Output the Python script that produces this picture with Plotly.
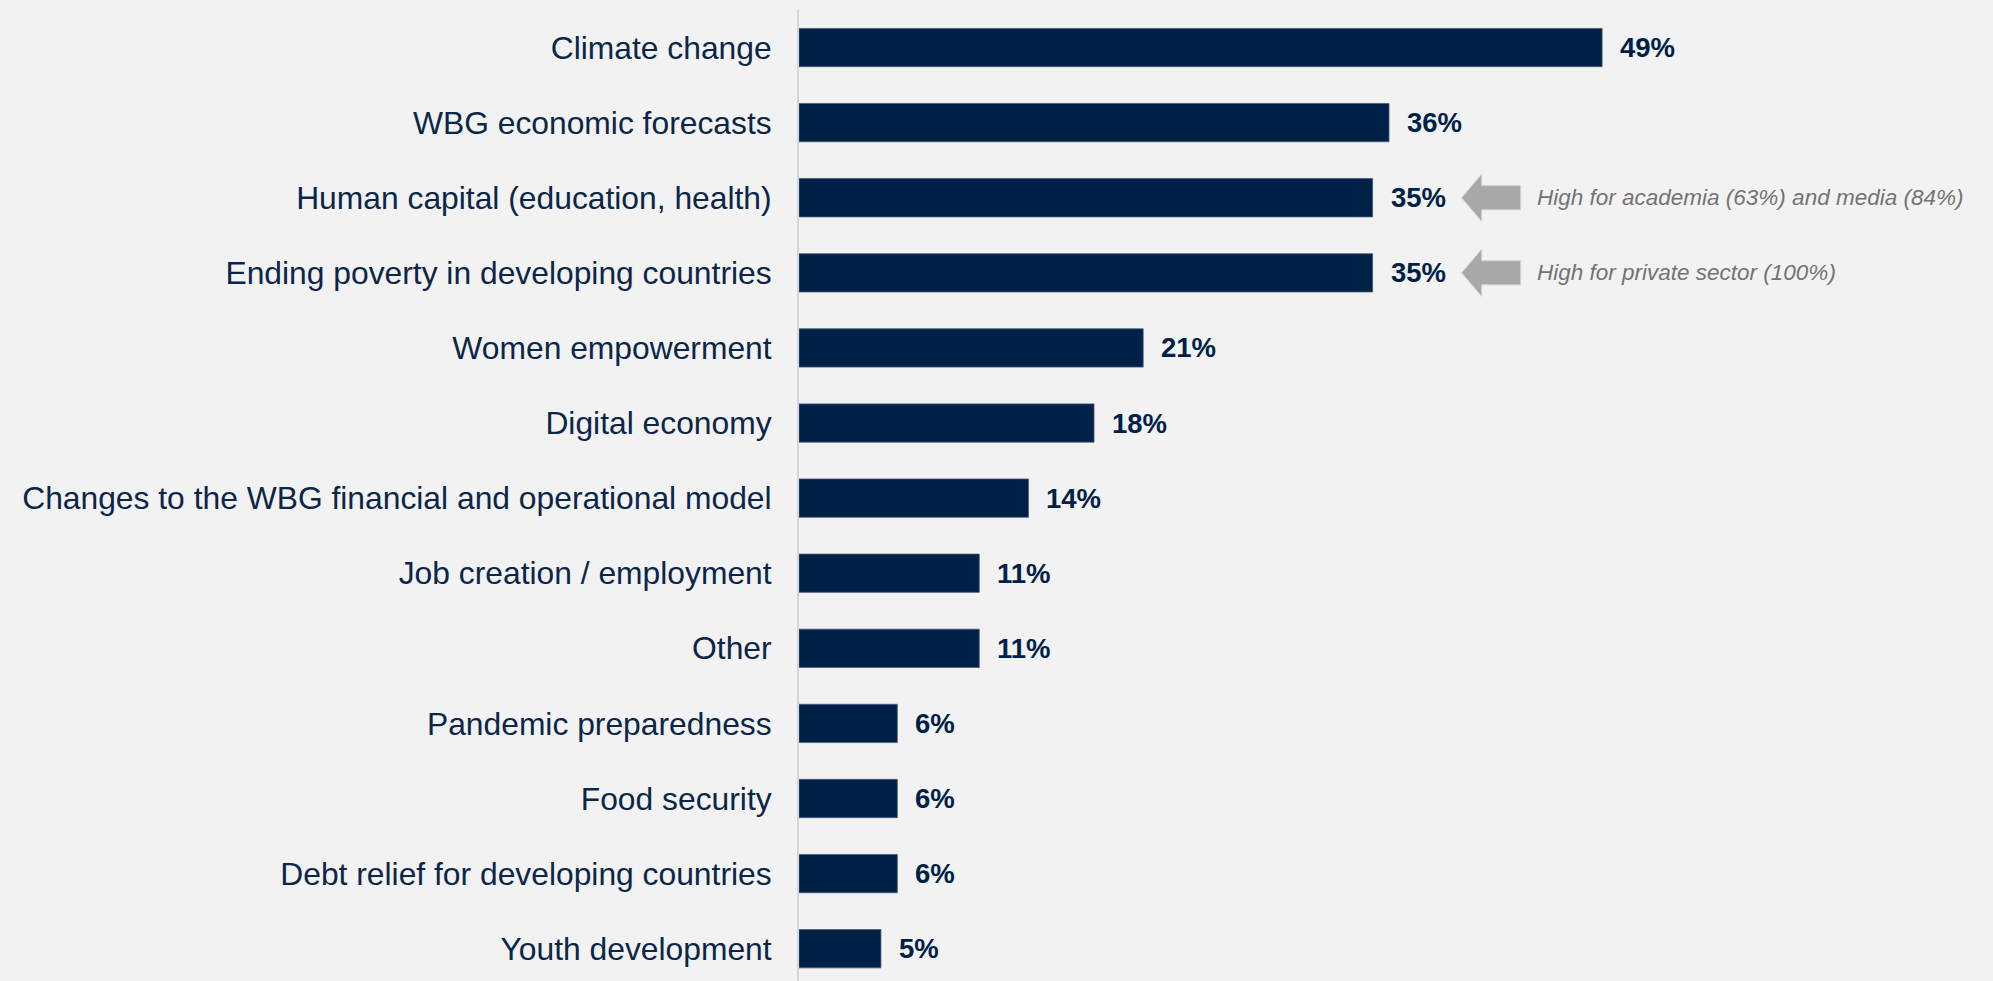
import plotly.graph_objects as go

categories = [
    "Climate change",
    "WBG economic forecasts",
    "Human capital (education, health)",
    "Ending poverty in developing countries",
    "Women empowerment",
    "Digital economy",
    "Changes to the WBG financial and operational model",
    "Job creation / employment",
    "Other",
    "Pandemic preparedness",
    "Food security",
    "Debt relief for developing countries",
    "Youth development",
]
values = [49, 36, 35, 35, 21, 18, 14, 11, 11, 6, 6, 6, 5]
value_labels = [f"{v}%" for v in values]

note_categories = ["Human capital (education, health)", "Ending poverty in developing countries"]
note_texts = ["High for academia (63%) and media (84%)", "High for private sector (100%)"]

NAVY = "#002147"
BG = "#f2f2f2"
FONT = "Arial, Liberation Sans, sans-serif"

fig = go.Figure()
fig.add_trace(go.Bar(
    x=values, y=categories, orientation="h",
    marker=dict(color=NAVY, line=dict(color="#4a5d78", width=0.8)),
    hoverinfo="skip",
))

annotations = []
for c, v, t in zip(categories, values, value_labels):
    annotations.append(dict(
        x=v, y=c, xref="x", yref="y", text=f"<b>{t}</b>", showarrow=False,
        xanchor="left", yanchor="middle", xshift=16,
        font=dict(family=FONT, size=27.5, color=NAVY),
    ))

shapes = []
val_map = dict(zip(categories, values))
arrow_path = "M 89,0 L 109,23.5 L 109,12 L 148,12 L 148,-12 L 109,-12 L 109,-23.5 Z"
for c, t in zip(note_categories, note_texts):
    v = val_map[c]
    shapes.append(dict(
        type="path", xref="x", yref="y", xsizemode="pixel", ysizemode="pixel",
        xanchor=v, yanchor=c, path=arrow_path,
        fillcolor="#a8a8a8", line=dict(color="#cfcfcf", width=1), layer="above",
    ))
    annotations.append(dict(
        x=v, y=c, xref="x", yref="y", text=f"<i>{t}</i>", showarrow=False,
        xanchor="left", yanchor="middle", xshift=162,
        font=dict(family=FONT, size=22.5, color="#737373"),
    ))

fig.update_layout(
    width=1993, height=981,
    margin=dict(l=799, r=0, t=10, b=0, pad=0),
    paper_bgcolor=BG, plot_bgcolor=BG,
    bargap=0.49,
    showlegend=False,
    annotations=annotations,
    shapes=shapes,
    font=dict(family=FONT, color=NAVY),
)
fig.update_xaxes(
    range=[0, 72.85], showgrid=False, zeroline=False, showticklabels=False,
    showline=False, fixedrange=True,
)
fig.update_yaxes(
    type="category", categoryorder="array", categoryarray=categories,
    range=[12.43, -0.5], automargin=False,
    showgrid=False, zeroline=False,
    showline=True, linecolor="#d6d6d6", linewidth=2,
    ticks="", ticklabelstandoff=19,
    tickfont=dict(family=FONT, size=31.8, color="#0b2649"),
)

fig.write_html(
    "out.html",
    config={"displayModeBar": False},
    post_script="document.body.style.margin='0';document.body.style.background='#f2f2f2';",
)
